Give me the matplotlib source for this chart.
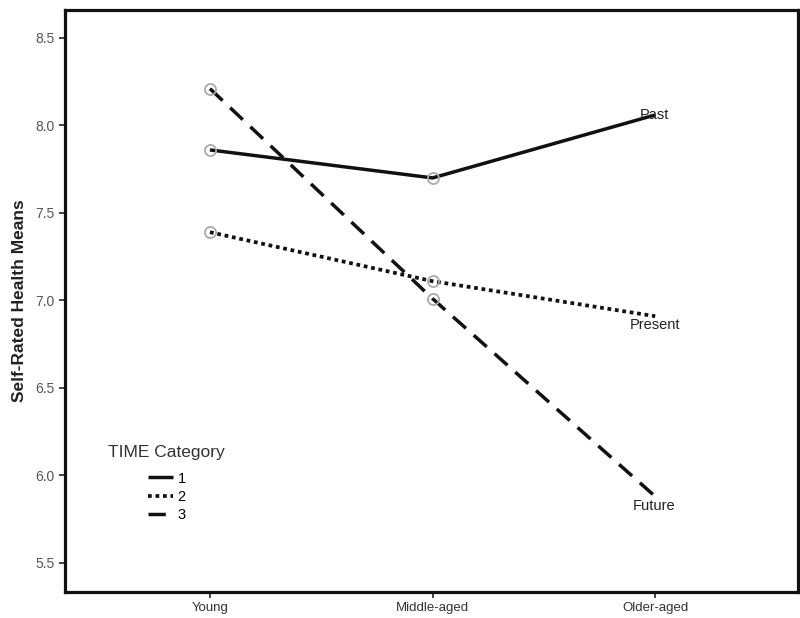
import matplotlib
matplotlib.use("Agg")
import matplotlib.pyplot as plt

plt.rcParams['font.family'] = ['Liberation Sans', 'DejaVu Sans']

age_groups = ["Young", "Middle-aged", "Older-aged"]
past = [7.86, 7.70, 8.06]
present = [7.39, 7.11, 6.91]
future = [8.21, 7.01, 5.88]
series_names = ["Past", "Present", "Future"]
legend_labels = ["1", "2", "3"]
yticks = [5.5, 6.0, 6.5, 7.0, 7.5, 8.0, 8.5]

fig = plt.figure(figsize=(8.0, 6.18), dpi=100)
ax = fig.add_axes([0.081, 0.042, 0.917, 0.942])

x = list(range(len(age_groups)))
styles = [
    dict(linestyle='-', linewidth=2.5),
    dict(linestyle=(0, (1.0, 1.0)), linewidth=2.7),
    dict(linestyle=(0, (5, 3)), linewidth=2.5),
]
handles = []
for vals, st in zip([past, present, future], styles):
    h, = ax.plot(x, vals, color='#111111', solid_capstyle='butt', dash_capstyle='butt', **st)
    handles.append(h)
    ax.plot(x[:2], vals[:2], linestyle='none', marker='o', markersize=8,
            markerfacecolor='none', markeredgecolor='#aaaaaa', markeredgewidth=1.3)

# end labels
offsets = [(-11, 0), (-18, -6), (-16, -6.5)]
for name, vals, (dx, dy) in zip(series_names, [past, present, future], offsets):
    ax.annotate(name, (x[-1], vals[-1]), xytext=(dx, dy), textcoords='offset points',
                ha='left', va='center', fontsize=10.5, color='#222222')

ax.set_xlim(-0.652, 2.643)
ax.set_ylim(5.334, 8.66)
ax.set_xticks(x)
ax.set_xticklabels(age_groups, fontsize=9.5, color='#333333')
ax.set_yticks(yticks)
ax.set_yticklabels([f"{v:.1f}" for v in yticks], fontsize=10, color='#555555')
ax.tick_params(axis='both', direction='out', length=4, width=1.2, color='#222222')
ax.set_ylabel("Self-Rated Health Means", fontsize=12.5, fontweight='bold', color='#222222', labelpad=6)

for s in ax.spines.values():
    s.set_linewidth(2.3)
    s.set_color('#111111')

ax.text(0.059, 0.239, "TIME Category", transform=ax.transAxes, fontsize=12.5,
        color='#333333', ha='left', va='center')
leg = ax.legend(handles, legend_labels, loc='upper left', bbox_to_anchor=(0.113, 0.207),
                frameon=False, fontsize=10.5, handlelength=1.75, handletextpad=0.3,
                labelspacing=0.28, borderpad=0.0, borderaxespad=0.0)

fig.savefig("out.png", dpi=100)
